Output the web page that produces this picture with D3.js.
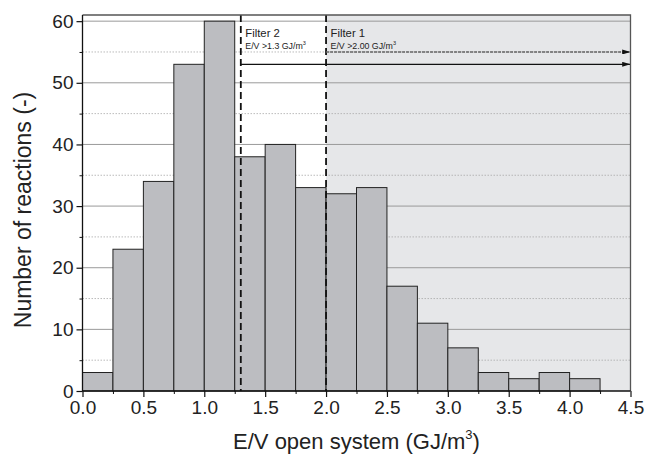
<!DOCTYPE html>
<html><head><meta charset="utf-8">
<script src="https://cdn.jsdelivr.net/npm/d3@7"></script>
<style>body{margin:0;background:#fff}svg{display:block;font-family:"Liberation Sans",Arial,sans-serif}</style>
</head><body><svg id="c" width="646" height="459"></svg>
<script>
const binStarts = [0,0.25,0.5,0.75,1.0,1.25,1.5,1.75,2.0,2.25,2.5,2.75,3.0,3.25,3.5,3.75,4.0];
const binWidth = 0.25;
const counts = [3,23,34,53,60,38,40,33,32,33,17,11,7,3,2,3,2];
const xTicks = [0,0.5,1,1.5,2,2.5,3,3.5,4,4.5];
const xMinor = [0.25,0.75,1.25,1.75,2.25,2.75,3.25,3.75,4.25];
const yTicks = [0,10,20,30,40,50,60];
const yMinor = [5,15,25,35,45,55];
const filters = [{name:"Filter 2", label:"E/V >1.3 GJ/m", at:1.3, arrowY:53},
                 {name:"Filter 1", label:"E/V >2.00 GJ/m", at:2.0, arrowY:55}];

const svg = d3.select("#c");
const L=82.5, R=630.5, T=15, B=391;
const x = d3.scaleLinear().domain([0,4.5]).range([L,R]);
const y = d3.scaleLinear().domain([0,61]).range([B,T]);

svg.append("defs").append("marker").attr("id","ah").attr("viewBox","0 0 10 6")
  .attr("refX",10).attr("refY",3).attr("markerWidth",10).attr("markerHeight",5)
  .attr("markerUnits","userSpaceOnUse").attr("orient","auto")
  .append("path").attr("d","M0,0L10,3L0,6Z").attr("fill","#111");

// shaded region
svg.append("rect").attr("x",x(2.0)).attr("y",T).attr("width",x(4.5)-x(2.0)).attr("height",B-T).attr("fill","#e6e7e9");

// gridlines
svg.append("g").selectAll("line").data(yTicks.filter(d=>d>0)).join("line")
  .attr("x1",L).attr("x2",R).attr("y1",d=>y(d)).attr("y2",d=>y(d))
  .attr("stroke","#9a9a9a").attr("stroke-width",1);
svg.append("g").selectAll("line").data(yMinor).join("line")
  .attr("x1",L).attr("x2",R).attr("y1",d=>y(d)).attr("y2",d=>y(d))
  .attr("stroke","#aaa").attr("stroke-width",0.8).attr("stroke-dasharray","1.5,1.5");

// bars
svg.append("g").selectAll("rect").data(counts).join("rect")
  .attr("x",(d,i)=>x(binStarts[i])).attr("width",(d,i)=>x(binStarts[i]+binWidth)-x(binStarts[i]))
  .attr("y",d=>y(d)).attr("height",d=>B-y(d))
  .attr("fill","#bcbdc1").attr("stroke","#222").attr("stroke-width",1);

// filter lines
filters.forEach(f=>{
  svg.append("line").attr("x1",x(f.at)).attr("x2",x(f.at)).attr("y1",T).attr("y2",B)
    .attr("stroke","#111").attr("stroke-width",1.8).attr("stroke-dasharray","7,4");
  const ln = svg.append("line").attr("x1",x(f.at)).attr("x2",R).attr("y1",y(f.arrowY)).attr("y2",y(f.arrowY))
    .attr("marker-end","url(#ah)");
  if(f.at===2.0) ln.attr("stroke","#666").attr("stroke-width",1.6).attr("stroke-dasharray","3,1");
  else ln.attr("stroke","#111").attr("stroke-width",1.2);
  svg.append("text").attr("x",x(f.at)+4.5).attr("y",37).attr("font-size",11.3).attr("fill","#222").text(f.name);
  const t = svg.append("text").attr("x",x(f.at)+4.5).attr("y",49).attr("font-size",8.8).attr("fill","#222").text(f.label);
  t.append("tspan").attr("dy",-4).attr("font-size",5.5).text("3");
});

// frame top & right
svg.append("path").attr("d",`M${L},${T}H${R}V${B}`).attr("fill","none").attr("stroke","#555").attr("stroke-width",1.3);

// axes
const xAxis = svg.append("g").attr("transform",`translate(0,${B})`)
  .call(d3.axisBottom(x).tickValues(xTicks).tickFormat(d3.format(".1f")).tickSize(6).tickPadding(4));
svg.append("g").attr("transform",`translate(0,${B})`)
  .call(d3.axisBottom(x).tickValues(xMinor).tickFormat("").tickSize(3))
  .call(g=>g.select(".domain").remove());
const yAxis = svg.append("g").attr("transform",`translate(${L},0)`)
  .call(d3.axisLeft(y).tickValues(yTicks).tickSize(6).tickPadding(3));
svg.append("g").attr("transform",`translate(${L},0)`)
  .call(d3.axisLeft(y).tickValues(yMinor).tickFormat("").tickSize(3))
  .call(g=>g.select(".domain").remove());
[xAxis,yAxis].forEach(a=>{
  a.select(".domain").attr("stroke","#111").attr("stroke-width",1.3);
  a.selectAll(".tick line").attr("stroke","#111").attr("stroke-width",1.2);
  a.selectAll(".tick text").attr("font-size",19).attr("fill","#222").attr("font-family","'Liberation Sans',Arial,sans-serif");
});
yAxis.select(".domain").attr("d",`M0,${T}V${B}`);
xAxis.select(".domain").attr("d",`M${L},0H${R}`);
svg.selectAll(".tick line").attr("stroke","#111");

// axis titles
const xt = svg.append("text").attr("x",(L+R)/2).attr("y",449).attr("text-anchor","middle")
  .attr("font-size",22).attr("fill","#222").text("E/V open system (GJ/m");
xt.append("tspan").attr("dy",-10).attr("font-size",13).text("3");
xt.append("tspan").attr("dy",10).text(")");
svg.append("text").attr("transform",`translate(31,210) rotate(-90)`).attr("text-anchor","middle")
  .attr("font-size",23).attr("fill","#222").text("Number of reactions (-)");
</script></body></html>
